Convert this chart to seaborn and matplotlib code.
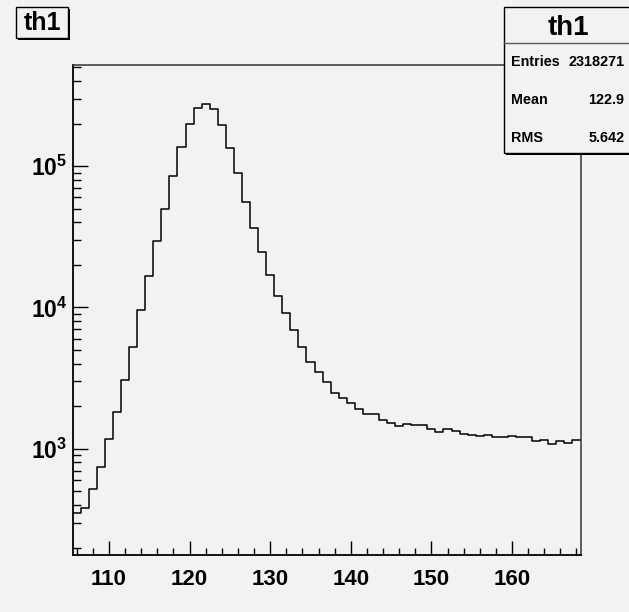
import numpy as np
import pandas as pd
import seaborn as sns
import matplotlib.pyplot as plt
from matplotlib.patches import Rectangle
from matplotlib.lines import Line2D
from matplotlib.ticker import FuncFormatter, LogLocator, MultipleLocator, NullFormatter

# histogram contents (bin width 1, centers 106..168)
bin_centers = list(range(106, 169))
counts = [352, 378, 515, 738, 1180, 1806, 3060, 5260, 9520, 16680,
          29300, 49600, 85000, 135600, 197000, 258700, 274900, 251600, 194000, 134800,
          88700, 55300, 36400, 24500, 16950, 12030, 9080, 6900, 5260, 4080,
          3480, 2970, 2470, 2300, 2100, 1918, 1758, 1750, 1604, 1527,
          1455, 1494, 1465, 1470, 1384, 1315, 1384, 1325, 1262, 1242,
          1227, 1247, 1207, 1220, 1232, 1207, 1214, 1128, 1146, 1080,
          1140, 1098, 1158]
x_ticks = [110, 120, 130, 140, 150, 160]
hist_name = "th1"
stats_labels = ["Entries", "Mean", "RMS"]
stats_values = ["2318271", "122.9", "5.642"]

W, H = 629, 612
bg = "#f2f2f2"

plt.rcParams["font.family"] = ["Liberation Sans", "DejaVu Sans"]
plt.rcParams["font.weight"] = "bold"
plt.rcParams["mathtext.fontset"] = "custom"
plt.rcParams["mathtext.bf"] = "Liberation Sans:bold"
plt.rcParams["mathtext.rm"] = "Liberation Sans:bold"


def fx(px):
    return px / W


def fy(py):
    return 1 - py / H


fig = plt.figure(figsize=(W / 100, H / 100), dpi=100, facecolor=bg)
ax = fig.add_axes([fx(72.7), fy(555), fx(580.5) - fx(72.7), fy(65) - fy(555)])
ax.set_facecolor(bg)

df = pd.DataFrame({"x": bin_centers, "n": counts})
sns.histplot(data=df, x="x", weights="n", binwidth=1, binrange=(105.5, 168.5),
             element="step", fill=False, color="black", linewidth=1.1, ax=ax)
ax.set_yscale("log")
ax.set_xlim(105.5, 168.5)
ax.set_ylim(177, 5.19e5)
ax.set_xlabel("")
ax.set_ylabel("")

ax.set_xticks(x_ticks)
ax.xaxis.set_minor_locator(MultipleLocator(2))
ax.yaxis.set_major_locator(LogLocator(base=10))
ax.yaxis.set_minor_locator(LogLocator(base=10, subs=np.arange(2, 10)))
ax.yaxis.set_major_formatter(FuncFormatter(lambda v, p: r"$\mathbf{10^{%d}}$" % round(np.log10(v))))
ax.yaxis.set_minor_formatter(NullFormatter())

ax.tick_params(axis="x", which="major", direction="in", length=10, width=1, labelsize=16, pad=10)
ax.tick_params(axis="x", which="minor", direction="in", length=5, width=1)
ax.tick_params(axis="y", which="major", direction="in", length=11, width=1, labelsize=16.5, pad=4)
ax.tick_params(axis="y", which="minor", direction="in", length=6, width=1)
for s in ["left", "bottom"]:
    ax.spines[s].set_color("black")
    ax.spines[s].set_linewidth(1.3)
for s in ["top", "right"]:
    ax.spines[s].set_color("#333333")
    ax.spines[s].set_linewidth(1.1)

# title box, top left
fig.add_artist(Rectangle((fx(18), fy(40)), fx(52), fy(9) - fy(40), facecolor="black",
                         edgecolor="none", zorder=5))
fig.add_artist(Rectangle((fx(16), fy(38)), fx(52), fy(7) - fy(38), facecolor=bg,
                         edgecolor="black", linewidth=1, zorder=6))
fig.text(fx(42), fy(23.5), hist_name, ha="center", va="center", fontsize=18,
         fontweight="bold", zorder=7)

# stats box, top right
fig.add_artist(Rectangle((fx(506), fy(155)), fx(630) - fx(506), fy(9) - fy(155),
                         facecolor="black", edgecolor="none", zorder=5))
fig.add_artist(Rectangle((fx(504.3), fy(152.7)), fx(630) - fx(504.3), fy(6.7) - fy(152.7),
                         facecolor=bg, edgecolor="black", linewidth=1, zorder=6))
fig.add_artist(Line2D([fx(504.3), fx(630)], [fy(42.7), fy(42.7)], color="#555555",
                      linewidth=1, zorder=7))
fig.text(fx(568), fy(28), hist_name, ha="center", va="center", fontsize=20,
         fontweight="bold", zorder=7)
for i, (lab, val) in enumerate(zip(stats_labels, stats_values)):
    yy = fy(62.5 + i * 37.5)
    fig.text(fx(510.5), yy, lab, ha="left", va="center", fontsize=10.4, fontweight="bold", zorder=7)
    fig.text(fx(624.5), yy, val, ha="right", va="center", fontsize=10.4, fontweight="bold", zorder=7)

fig.savefig("out.png", dpi=100, facecolor=bg)
